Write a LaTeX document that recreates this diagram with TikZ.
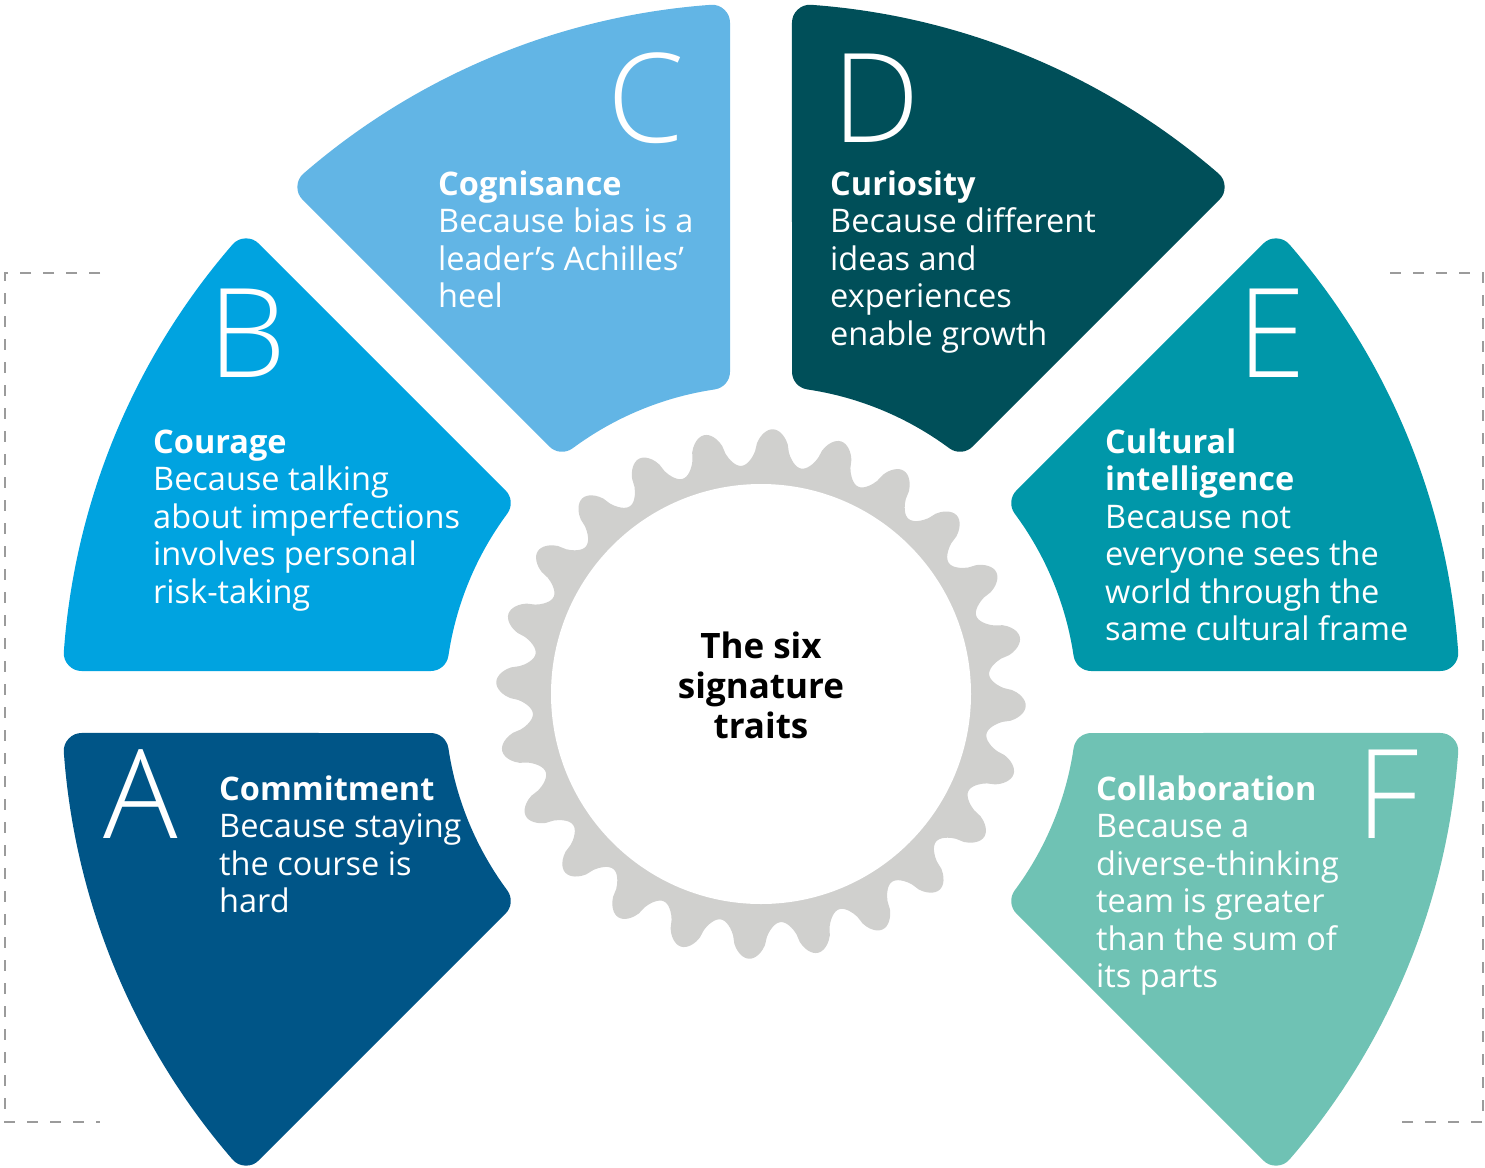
\documentclass[tikz,border=0pt]{standalone}
\usepackage{fontspec}
\setmainfont{Open Sans}
\newfontfamily\lightfont{Open Sans Light}
\usetikzlibrary{calc}
\definecolor{cA}{HTML}{005587}
\definecolor{cB}{HTML}{00A3E0}
\definecolor{cC}{HTML}{62B5E5}
\definecolor{cD}{HTML}{004F59}
\definecolor{cE}{HTML}{0097A9}
\definecolor{cF}{HTML}{6FC2B4}
\definecolor{gearc}{HTML}{D0D0CE}
\definecolor{dashc}{HTML}{9B9B9B}
\newcommand\hd[1]{{\bfseries #1}}
\begin{document}
\begin{tikzpicture}[x=1pt,y=1pt,
  letter/.style={font=\lightfont\fontsize{124}{124}\selectfont, text=white, anchor=base west, inner sep=0pt},
  trait/.style={font=\fontsize{32.5}{37.5}\selectfont, text=white, anchor=base west, inner sep=0pt, align=left},
  frame/.style={draw=dashc, line width=2.5pt, dash pattern=on 11pt off 12pt},
  centre/.style={font=\bfseries\fontsize{35}{40}\selectfont, text=black, align=center, inner sep=0pt, anchor=base}]
\useasboundingbox (0,0) rectangle (1485,-1167);
\coordinate (O) at (761,-702);
\coordinate (G) at (761,-694);
\def\gap{31}\def\rout{699}\def\rin{316}\def\rcor{18}
\newcommand\mkseg[2]{%
  \pgfmathsetmacro\dd{\gap+\rcor}%
  \pgfmathsetmacro\RRo{\rout-\rcor}%
  \pgfmathsetmacro\RRi{\rin+\rcor}%
  \pgfmathsetmacro\aao{asin(\dd/\RRo)}%
  \pgfmathsetmacro\aai{asin(\dd/\RRi)}%
  \pgfmathsetmacro\sa{#1+\aao}\pgfmathsetmacro\ea{#1+45-\aao}%
  \pgfmathsetmacro\sb{#1+45-\aai}\pgfmathsetmacro\eb{#1+\aai}%
  \path[fill=#2, draw=#2, line width=2*\rcor, line join=round]
    ($(O)+(\sa:\RRo)$) arc[start angle=\sa, end angle=\ea, radius=\RRo]
    -- ($(O)+(\sb:\RRi)$) arc[start angle=\sb, end angle=\eb, radius=\RRi] -- cycle;}
\mkseg{180}{cA}
\mkseg{135}{cB}
\mkseg{90}{cC}
\mkseg{45}{cD}
\mkseg{0}{cE}
\mkseg{-45}{cF}
% gear
\begin{scope}[shift={(G)}]
\fill[gearc] plot[domain=0:360, samples=721]
  ({87.4+\x}:{247+18*cos(24*\x)*pow(abs(cos(24*\x))+0.001,-0.35)}) -- cycle;
\fill[white] (0,0) circle (210);
\end{scope}
\node[centre] (title) at (761,-738) {The six\\signature\\traits};
% letters
\node[letter] (lA) at (103,-838) {A};
\node[letter] (lB) at (208,-377) {B};
\node[letter] (lC) at (607,-142) {C};
\node[letter] (lD) at (832,-142) {D};
\node[letter] (lE) at (1237,-377) {E};
\node[letter] (lF) at (1356,-838) {F};
% texts
\node[trait] (tA) at (219,-912.5) {\hd{Commitment}\\Because staying\\the course is\\hard};
\node[trait] (tB) at (153,-603) {\hd{Courage}\\Because talking\\about imperfections\\involves personal\\risk-taking};
\node[trait] (tC) at (438,-307.5) {\hd{Cognisance}\\Because bias is a\\leader’s Achilles’\\heel};
\node[trait] (tD) at (830,-345) {\hd{Curiosity}\\Because different\\ideas and\\experiences\\enable growth};
\node[trait] (tE) at (1105,-640.5) {\hd{Cultural}\\\hd{intelligence}\\Because not\\everyone sees the\\world through the\\same cultural frame};
\node[trait] (tF) at (1096,-987.5) {\hd{Collaboration}\\Because a\\diverse-thinking\\team is greater\\than the sum of\\its parts};
% dashed brackets
\coordinate (L1) at (100,-273);
\coordinate (L2) at (5,-273);
\coordinate (L3) at (5,-1122);
\coordinate (L4) at (100,-1122);
\coordinate (R1) at (1390,-273);
\coordinate (R2) at (1483,-273);
\coordinate (R3) at (1483,-1122);
\coordinate (R4) at (1390,-1122);
\draw[frame] (L1) -- (L2) -- (L3) -- (L4);
\draw[frame] (R1) -- (R2) -- (R3) -- (R4);
\end{tikzpicture}
\end{document}
